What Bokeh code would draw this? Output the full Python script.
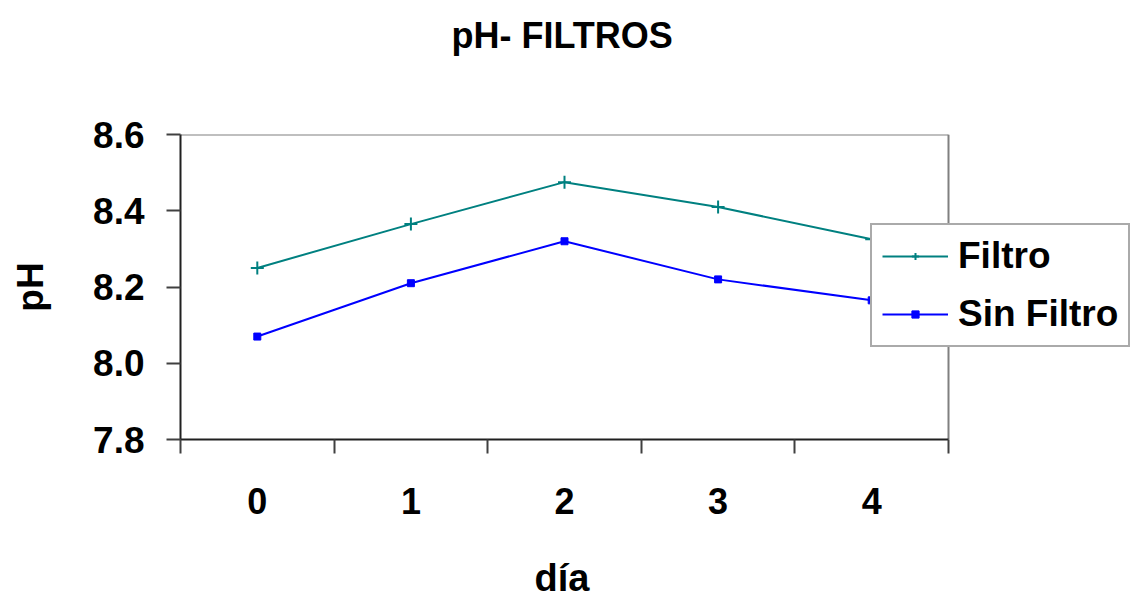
from bokeh.plotting import figure
from bokeh.models import Range1d, FixedTicker, Legend, LegendItem, Title
from bokeh.embed import file_html
from bokeh.resources import INLINE

dias = [0, 1, 2, 3, 4]
dia_labels = ["0", "1", "2", "3", "4"]
filtro = [8.25, 8.365, 8.475, 8.41, 8.325]
sin_filtro = [8.07, 8.21, 8.32, 8.22, 8.165]
y_ticks = [7.8, 8.0, 8.2, 8.4, 8.6]

FONT = "Liberation Sans"

x_lo, x_hi = dias[0] - 0.5, dias[-1] + 0.5
y_lo, y_hi = y_ticks[0], y_ticks[-1]
W, H = 1131, 598
left, right_edge = 180, 948
px_per_unit = (right_edge - left) / (x_hi - x_lo)
x_end = x_lo + (W - left) / px_per_unit

p = figure(width=W, height=H, output_backend="svg", toolbar_location=None,
           x_range=Range1d(x_lo, x_end), y_range=Range1d(y_lo, y_hi),
           min_border_left=left, min_border_right=0, min_border_top=134, min_border_bottom=158)
p.background_fill_color = "white"
p.border_fill_color = "white"
p.outline_line_color = None
p.xgrid.visible = False
p.ygrid.visible = False
p.title = None

title = Title(text="pH- FILTROS", align="left", offset=271, standoff=0,
              padding=(0, 0, 0, 79),
              text_font=FONT, text_font_size="36px", text_font_style="bold",
              text_color="black")
p.add_layout(title, "above")

# plot-area border (top and right), grey
p.segment(x0=[x_lo, x_hi], y0=[y_hi, y_lo], x1=[x_hi, x_hi], y1=[y_hi, y_hi],
          line_color="#808080", line_width=2)

# x axis
xa = p.xaxis[0]
xa.bounds = (x_lo, x_hi)
xa.ticker = FixedTicker(ticks=dias, minor_ticks=[d - 0.5 for d in dias] + [x_hi])
xa.major_label_overrides = {d: l for d, l in zip(dias, dia_labels)}
xa.major_tick_out = 0
xa.major_tick_in = 0
xa.minor_tick_out = 14
xa.minor_tick_in = 0
xa.minor_tick_line_color = "#404040"
xa.minor_tick_line_width = 2
xa.axis_line_color = "#202020"
xa.axis_line_width = 2
xa.major_label_standoff = 34
xa.major_label_text_font = FONT
xa.major_label_text_font_size = "36px"
xa.major_label_text_font_style = "bold"
xa.major_label_text_color = "black"

spacer = Title(text=" ", text_font_size="1px", standoff=35, align="left")
xlabel = Title(text="día", align="left", offset=354, standoff=0,
               text_font=FONT, text_font_size="38px", text_font_style="bold",
               text_color="black")
p.add_layout(spacer, "below")
p.add_layout(xlabel, "below")

# y axis
ya = p.yaxis[0]
ya.ticker = FixedTicker(ticks=y_ticks, minor_ticks=[])
ya.major_label_overrides = {t: f"{t:.1f}" for t in y_ticks}
ya.major_tick_out = 14
ya.major_tick_in = 0
ya.major_tick_line_color = "#404040"
ya.major_tick_line_width = 2
ya.axis_line_color = "#202020"
ya.axis_line_width = 2
ya.major_label_standoff = 22
ya.major_label_text_font = FONT
ya.major_label_text_font_size = "37px"
ya.major_label_text_font_style = "bold"
ya.major_label_text_color = "black"
ya.axis_label = "pH"
ya.axis_label_text_font = FONT
ya.axis_label_text_font_size = "37px"
ya.axis_label_text_font_style = "bold"
ya.axis_label_text_color = "black"
ya.axis_label_standoff = 39

TEAL = "#008080"
BLUE = "#0000FF"

l1 = p.line(dias, filtro, line_color=TEAL, line_width=2)
m1 = p.scatter(dias, filtro, marker="cross", size=13, line_color=TEAL, line_width=2)
l2 = p.line(dias, sin_filtro, line_color=BLUE, line_width=2)
m2 = p.scatter(dias, sin_filtro, marker="square", size=7, line_color=BLUE, fill_color=BLUE)

legend = Legend(items=[LegendItem(label="Filtro", renderers=[l1, m1]),
                       LegendItem(label="Sin Filtro", renderers=[l2, m2])],
                location=(690, 92), margin=0, padding=10, spacing=16,
                glyph_width=66, glyph_height=18, label_height=40, label_standoff=10,
                label_text_font=FONT, label_text_font_size="37px", label_text_font_style="bold",
                label_text_color="black",
                border_line_color="#555555", border_line_width=2,
                background_fill_color="white", background_fill_alpha=1.0)
p.add_layout(legend, "center")

open("out.html", "w").write(file_html(p, INLINE))
